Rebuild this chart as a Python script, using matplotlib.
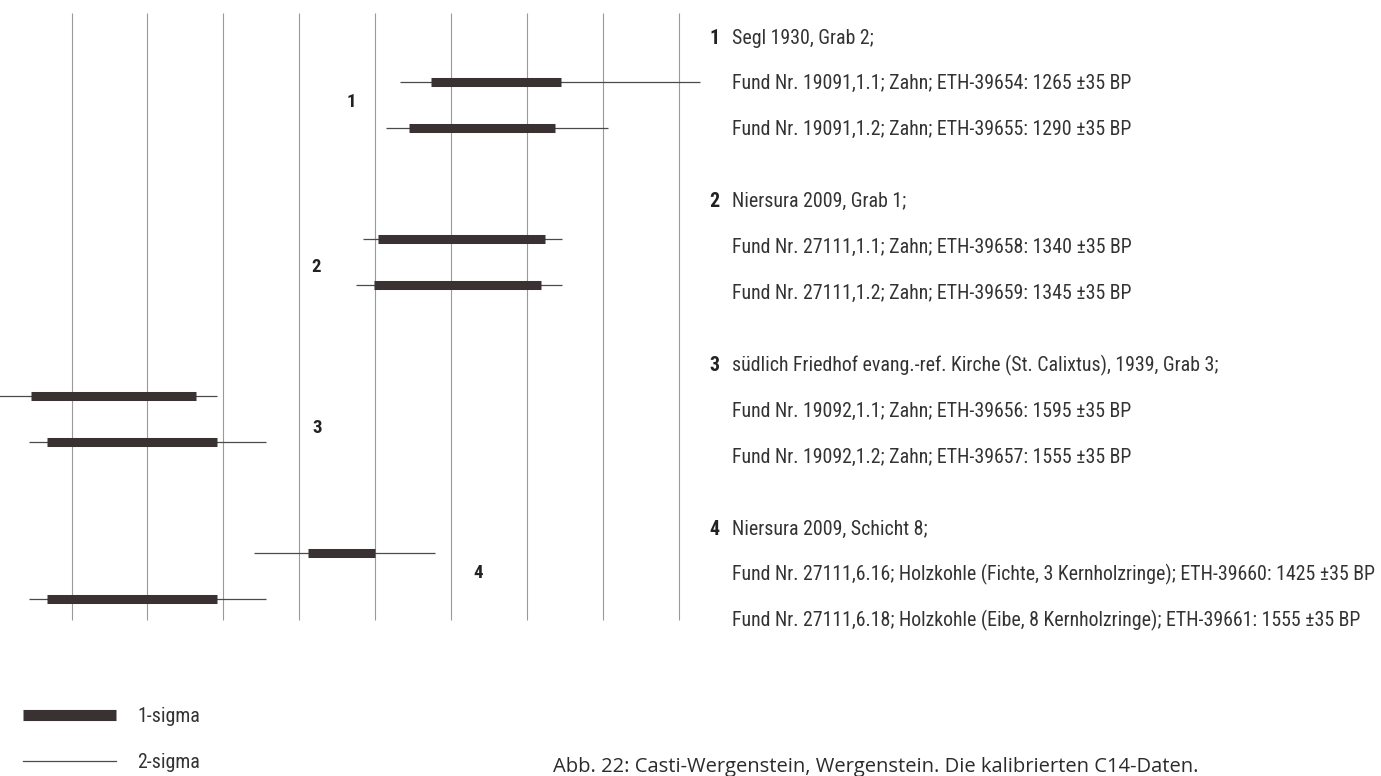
import matplotlib
matplotlib.use("Agg")
import matplotlib.pyplot as plt
from matplotlib.lines import Line2D

# calibrated C14 ranges (calendar years AD), one row per sample
samples = ["ETH-39654", "ETH-39655", "ETH-39658", "ETH-39659",
           "ETH-39656", "ETH-39657", "ETH-39660", "ETH-39661"]
group = [1, 1, 2, 2, 3, 3, 4, 4]
sigma1_lo = [687, 672, 652, 649, 423, 434, 606, 434]
sigma1_hi = [772, 768, 762, 759, 532, 546, 650, 546]
sigma2_lo = [666, 657, 642, 637, 396, 422, 570, 422]
sigma2_hi = [864, 803, 773, 773, 546, 578, 689, 578]

grid_years = [450, 500, 550, 600, 650, 700, 750, 800, 850]

site_titles = [
    "Segl 1930, Grab 2;",
    "Niersura 2009, Grab 1;",
    "südlich Friedhof evang.-ref. Kirche (St. Calixtus), 1939, Grab 3;",
    "Niersura 2009, Schicht 8;",
]
fund_lines = [
    ["Fund Nr. 19091,1.1; Zahn; ETH-39654: 1265 ±35 BP",
     "Fund Nr. 19091,1.2; Zahn; ETH-39655: 1290 ±35 BP"],
    ["Fund Nr. 27111,1.1; Zahn; ETH-39658: 1340 ±35 BP",
     "Fund Nr. 27111,1.2; Zahn; ETH-39659: 1345 ±35 BP"],
    ["Fund Nr. 19092,1.1; Zahn; ETH-39656: 1595 ±35 BP",
     "Fund Nr. 19092,1.2; Zahn; ETH-39657: 1555 ±35 BP"],
    ["Fund Nr. 27111,6.16; Holzkohle (Fichte, 3 Kernholzringe); ETH-39660: 1425 ±35 BP",
     "Fund Nr. 27111,6.18; Holzkohle (Eibe, 8 Kernholzringe); ETH-39661: 1555 ±35 BP"],
]
caption = "Abb. 22: Casti-Wergenstein, Wergenstein. Die kalibrierten C14-Daten."

# layout (pixels of a 1381x776 figure)
W, H = 1381, 776
narrow = ["Liberation Sans Narrow", "Roboto Condensed", "Liberation Sans", "DejaVu Sans"]
bar_col = "#3a3232"
thin_col = "#4a4a4a"
grid_col = "#9a9a9a"
txt_col = "#333333"
fs = 14.3

fig = plt.figure(figsize=(W / 100, H / 100), dpi=100)
fig.patch.set_facecolor("white")

# chart axes: px 0..710 horizontally, 0..640 vertically (y in px-like row units)
ax = fig.add_axes([0, 1 - 640 / H, 710 / W, 640 / H])
ax.set_xlim(402.9, 402.9 + 710 / 1.5188)
ax.set_ylim(640, 0)
ax.axis("off")

ax.vlines(grid_years, 13, 620, color=grid_col, lw=0.8)

rows = []
member = {}
for g in group:
    k = member.get(g, 0)
    member[g] = k + 1
    rows.append(82 + (g - 1) * 157 + k * 46)

for y, a2, b2, a1, b1 in zip(rows, sigma2_lo, sigma2_hi, sigma1_lo, sigma1_hi):
    ax.plot([a2, b2], [y, y], color=thin_col, lw=0.9, solid_capstyle="butt")
    ax.plot([a1, b1], [y, y], color=bar_col, lw=6.5, solid_capstyle="butt")

# group numbers beside the bars
label_x = [634, 611, 612, 718]
label_dy = [-3, 5, 9, -3]
for g, lx, dy in zip([1, 2, 3, 4], label_x, label_dy):
    ys = [r for r, gg in zip(rows, group) if gg == g]
    ax.text(lx, sum(ys) / len(ys) + dy, str(g), ha="center", va="center",
            fontsize=13.5, fontweight="bold", color="#222222", family=narrow)

# sample descriptions on the right
for g, (title, lines) in enumerate(zip(site_titles, fund_lines)):
    y0 = 38 + g * 163.7
    fig.text(709 / W, 1 - y0 / H, str(g + 1), ha="left", va="center",
             fontsize=fs, fontweight="bold", color="#222222", family=narrow)
    fig.text(732 / W, 1 - y0 / H, title, ha="left", va="center",
             fontsize=fs, color=txt_col, family=narrow)
    for k, line in enumerate(lines):
        yk = y0 + (k + 1) * 45.8
        fig.text(732 / W, 1 - yk / H, line, ha="left", va="center",
                 fontsize=fs, color=txt_col, family=narrow)

# legend
handles = [Line2D([], [], color=bar_col, lw=8, solid_capstyle="butt"),
           Line2D([], [], color=thin_col, lw=0.9)]
fig.legend(handles, ["1-sigma", "2-sigma"], loc="upper left",
           bbox_to_anchor=(23 / W, 1 - 707 / H), frameon=False,
           handlelength=4.7, handletextpad=1.05, labelspacing=1.35,
           borderpad=0, borderaxespad=0,
           prop={"family": narrow, "size": fs}, labelcolor=txt_col)

fig.text(553 / W, 1 - 772 / H, caption, ha="left", va="baseline",
         fontsize=14.5, color="#2b2b2b", family=["Open Sans", "DejaVu Sans"])

fig.savefig("out.png", dpi=100, facecolor="white")
